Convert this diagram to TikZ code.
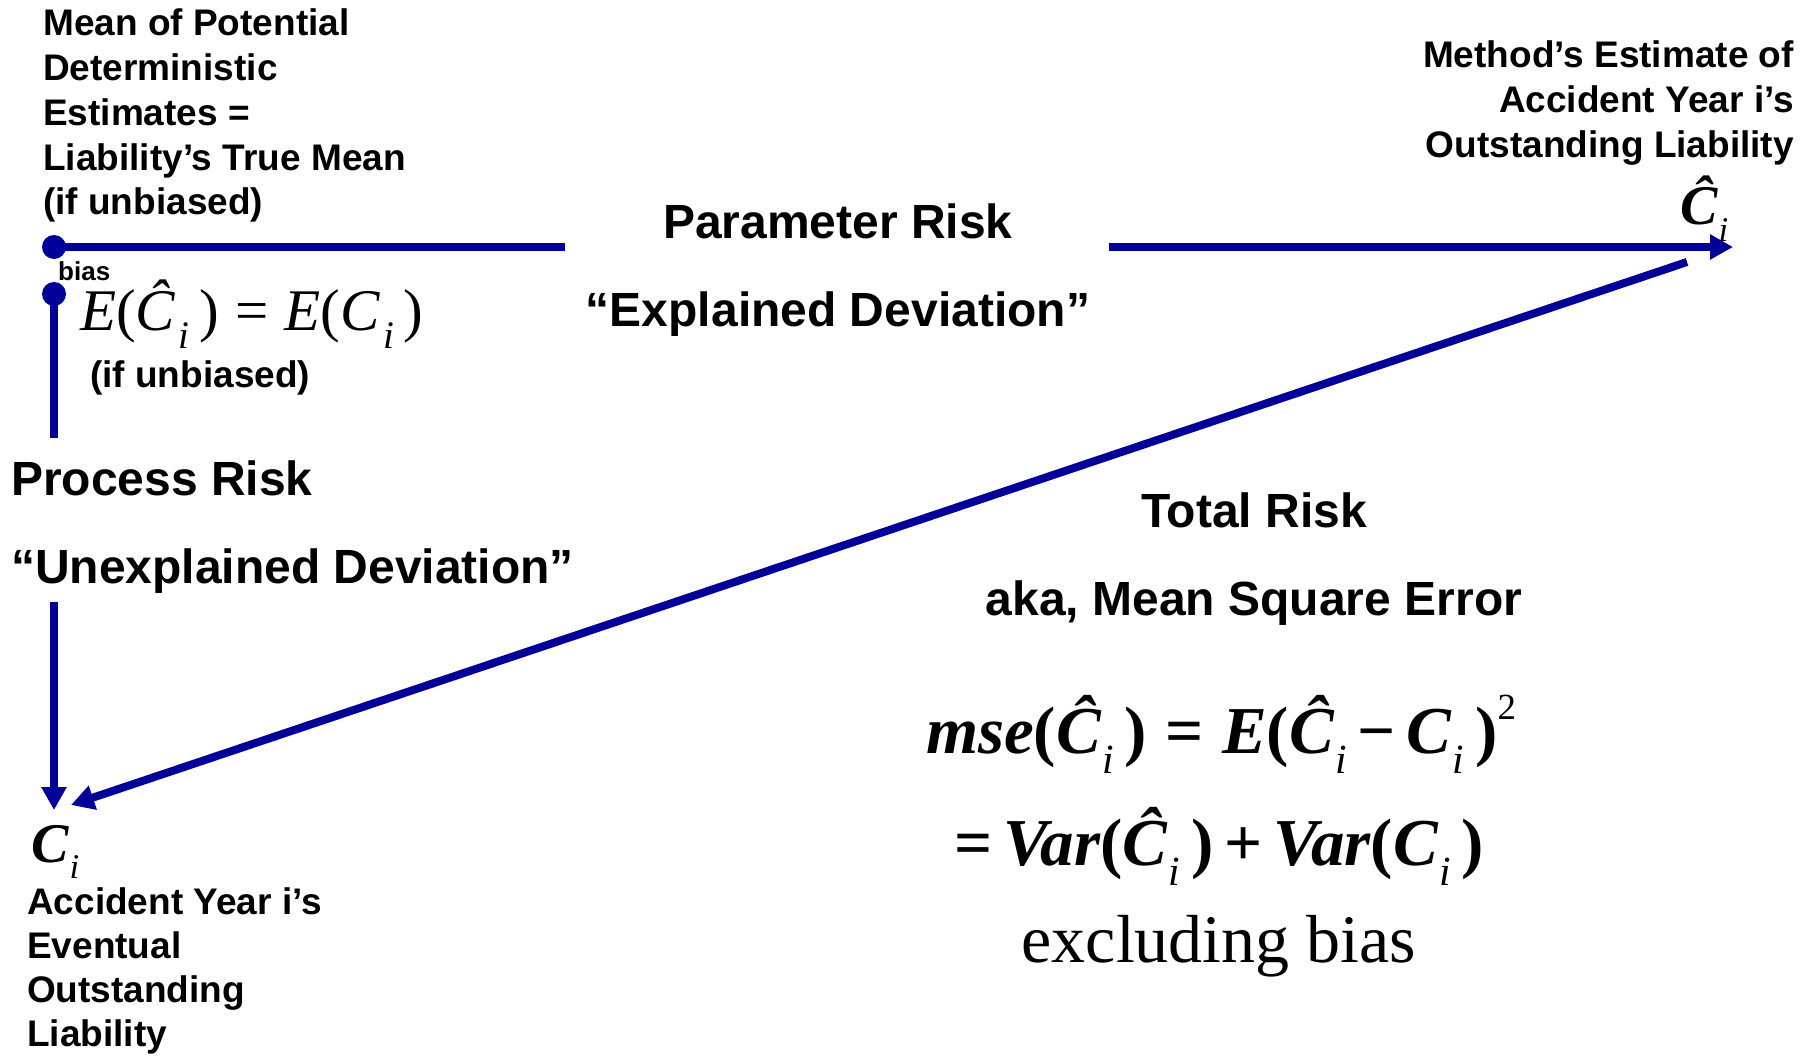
\documentclass[tikz,border=0pt]{standalone}
\usepackage{fontspec}
\setmainfont{Liberation Sans}
\newfontfamily\tnr{Liberation Serif}
\usepackage{graphicx}
\usetikzlibrary{arrows.meta}
\definecolor{navyline}{RGB}{0,0,153}
\newcommand\fs[2]{\fontsize{#1}{#2}\selectfont}
\newcommand\sbi{\kern0.06em\raisebox{-0.3em}{\scalebox{0.66}{\itshape i}}\kern0.16em}
\newcommand\sbm{\kern0.02em\raisebox{-0.3em}{\scalebox{0.62}{\mdseries\itshape i}}\kern0.16em}
\newcommand\lp{{\upshape(}}
\newcommand\rp{{\upshape)}}
\newcommand\mi[1]{{\itshape #1}}
\newcommand\eqs{{\upshape\;=\;}}
\newcommand\sqr{\raisebox{0.5em}{\scalebox{0.55}{\mdseries\upshape 2}}}
\tikzset{
  lbl/.style={inner sep=0pt, font=\bfseries\fs{37}{44.7}},
  big/.style={inner sep=0pt, font=\bfseries\fs{48}{52}},
  eqn/.style={inner sep=0pt, font=\tnr\bfseries\fs{67}{72}},
  conn/.style={draw=navyline, line width=8pt},
  tipped/.style={conn, -{Triangle[length=23pt,width=24pt]}},
  dotnode/.style={circle, fill=navyline, inner sep=0pt, minimum size=24pt},
}
\begin{document}
\begin{tikzpicture}[x=1pt,y=-1pt]
\useasboundingbox (0,0) rectangle (1816,1056);
\fill[white] (0,0) rectangle (1816,1056);

% dots and coordinates
\node[dotnode] (dA) at (54,247) {};
\node[dotnode] (dB) at (54,294) {};
\coordinate (pEnd) at (565,247);
\coordinate (pStart) at (1109,247);
\coordinate (tipR) at (1733,247);
\coordinate (vEnd) at (54,438);
\coordinate (vStart) at (54,602);
\coordinate (tipC) at (54,810);
\coordinate (dStart) at (1687,262);
\coordinate (dTip) at (71,805);

% connectors
\draw[conn] (dA.center) -- (pEnd);
\draw[tipped] (pStart) -- (tipR);
\draw[conn] (dB.center) -- (vEnd);
\draw[tipped] (vStart) -- (tipC);
\draw[tipped] (dStart) -- (dTip);

% labels
\node[lbl, anchor=base west] (meanlbl) at (43,36)
  {\begin{tabular}[t]{@{}l@{}}Mean of Potential\\Deterministic\\Estimates =\\Liability’s True Mean\\(if unbiased)\end{tabular}};
\node[lbl, anchor=base east] (methodlbl) at (1794,68)
  {\begin{tabular}[t]{@{}r@{}}Method’s Estimate of\\Accident Year i’s\\Outstanding Liability\end{tabular}};
\node[inner sep=0pt, anchor=base west, font=\tnr\bfseries\itshape\fs{56}{60}] (chat) at (1680,225) {Ĉ\sbm};

\node[big, anchor=base] (param) at (838,239) {Parameter Risk};
\node[big, anchor=base] (explained) at (838,327) {“Explained Deviation”};

\node[inner sep=0pt, anchor=base west, font=\bfseries\fs{26}{30}] (bias) at (58,281) {bias};
\node[inner sep=0pt, anchor=base west, font=\tnr\fs{59}{62}] (eqone) at (80,331)
  {\mi{E}\lp\mi{Ĉ}\sbi\rp\eqs\mi{E}\lp\mi{C}\sbi\rp};
\node[lbl, anchor=base west] (unb) at (90,388) {(if unbiased)};

\node[big, anchor=base west] (process) at (11,495) {Process Risk};
\node[big, anchor=base west] (unexpl) at (11,583) {“Unexplained Deviation”};

\node[big, anchor=base] (total) at (1254,527) {Total Risk};
\node[big, anchor=base] (aka) at (1254,615) {aka, Mean Square Error};

\node[eqn, anchor=base] (mse) at (1221,753)
  {\mi{mse}\lp\mi{Ĉ}\sbm\rp\eqs\mi{E}\lp\mi{Ĉ}\sbm{\upshape −\,}\mi{C}\sbm\rp\sqr};
\node[eqn, anchor=base] (var) at (1219,865)
  {{\upshape=\,}\mi{Var}\lp\mi{Ĉ}\sbm\rp{\upshape\,+\,}\mi{Var}\lp\mi{C}\sbm\rp};
\node[inner sep=0pt, anchor=base, font=\tnr\fs{68}{72}] (excl) at (1219,962) {excluding bias};

\node[inner sep=0pt, anchor=base west, font=\tnr\bfseries\itshape\fs{56}{60}] (ci) at (31,862) {C\sbm};
\node[lbl, anchor=base west, font=\bfseries\fs{37}{44.3}] (acclbl) at (27,914)
  {\begin{tabular}[t]{@{}l@{}}Accident Year i’s\\Eventual\\Outstanding\\Liability\end{tabular}};
\end{tikzpicture}
\end{document}
